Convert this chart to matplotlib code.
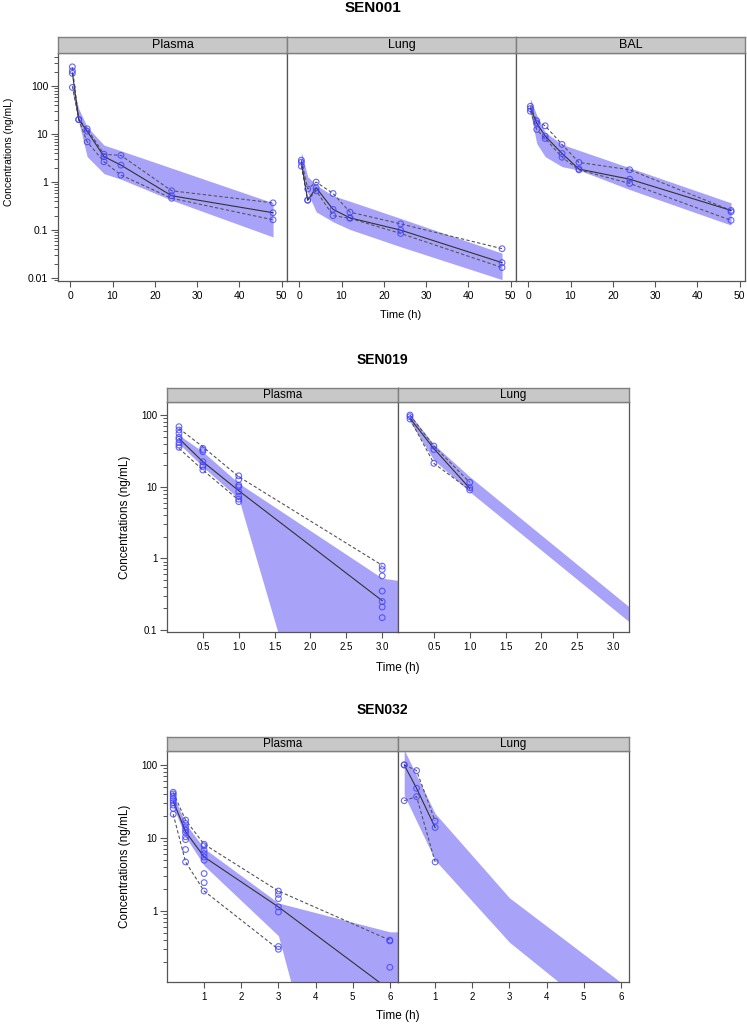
import numpy as np
import matplotlib
matplotlib.use('Agg')
import matplotlib.pyplot as plt
from matplotlib.ticker import FixedLocator, LogLocator, NullFormatter

plt.rcParams['font.family'] = ['Liberation Sans', 'DejaVu Sans']

W, H = 747, 1025
BAND = '#a8a3f8'
POINT = (0.25, 0.25, 1.0, 0.8)
nan = np.nan

# ---- SEN001 (time in h, concentration in ng/mL) ----
t001 = [0.5, 2, 4, 8, 12, 24, 48]

plasma001_obs = [[252, 208, 184, 94], [20.2, 20.0], [12.9, 11.5, 6.9], [3.8, 3.4, 2.65],
                 [3.6, 2.26, 1.4], [0.66, 0.52, 0.46], [0.37, 0.23, 0.164]]
plasma001_med = [189, 20.2, 11.5, 3.4, 2.26, 0.52, 0.23]
plasma001_hi = [245, 20.2, 12.9, 3.8, 3.6, 0.66, 0.37]
plasma001_lo = [100, 20.0, 6.9, 2.65, 1.4, 0.46, 0.164]
plasma001_band_hi = [110, 34, 14.2, 5.9, 4.5, 1.96, 0.37]
plasma001_band_lo = [75, 18, 3.4, 1.5, 1.15, 0.42, 0.072]

lung001_obs = [[2.87, 2.6, 2.15], [0.72, 0.42, 0.42], [1.0, 0.76, 0.66], [0.58, 0.27, 0.2],
               [0.237, 0.18, 0.176], [0.135, 0.1, 0.085], [0.041, 0.021, 0.0166]]
lung001_med = [2.6, 0.42, 0.76, 0.27, 0.18, 0.1, 0.021]
lung001_hi = [2.87, 0.72, 1.0, 0.58, 0.237, 0.135, 0.041]
lung001_lo = [2.15, 0.42, 0.66, 0.2, 0.176, 0.085, 0.0166]
lung001_band_hi = [4.2, 1.3, 0.87, 0.52, 0.40, 0.175, 0.033]
lung001_band_lo = [2.0, 0.6, 0.24, 0.149, 0.103, 0.045, 0.0093]

bal001_obs = [[38, 34, 30], [19, 17, 12.5], [14.9, 9.1, 8.1], [6.1, 3.95, 3.3],
              [2.57, 1.87, 1.8], [1.81, 1.15, 0.94], [0.257, 0.24, 0.16]]
bal001_med = [34, 17, 9.1, 3.95, 1.87, 1.15, 0.257]
bal001_hi = [38, 19, 14.9, 6.1, 2.57, 1.81, 0.257]
bal001_lo = [30, 12.5, 8.1, 3.3, 1.8, 0.94, 0.16]
bal001_band_hi = [55, 25, 11, 6.1, 4.6, 1.99, 0.37]
bal001_band_lo = [29, 6.4, 3.4, 2.1, 1.78, 0.70, 0.127]

# ---- SEN019 ----
t019 = [0.167, 0.5, 1.0, 3.0]

plasma019_obs = [[68.7, 61.8, 55.5, 48.8, 45.8, 41.1, 38.1, 35.4],
                 [34.3, 32.5, 30.8, 22.3, 20.0, 19.0, 17.1],
                 [14.2, 12.6, 10.5, 10.0, 8.5, 7.4, 6.7, 6.2],
                 [0.78, 0.70, 0.57, 0.35, 0.25, 0.21, 0.149]]
plasma019_med = [47, 22.3, 8.8, 0.257]
plasma019_hi = [65, 36, 13.8, 0.8]
plasma019_lo = [34.3, 17.1, 6.5, nan]
plasma019_band_t = [0.167, 0.5, 1.0, 3.0, 3.5]
plasma019_band_hi = [52.6, 30.8, 11.2, 0.53, 0.45]
plasma019_band_lo = [40, 19, 6.8, 1e-6, 1e-6]

lung019_obs = [[100, 95, 88], [36.9, 33, 21.2], [11.5, 9.7, 9.0], []]
lung019_med = [90, 34, 9.5, nan]
lung019_hi = [100, 37, 11.5, nan]
lung019_lo = [88, 21.2, 9.0, nan]
lung019_band_t = [0.167, 0.5, 1.0, 3.25]
lung019_band_hi = [102, 39, 13.8, 0.2]
lung019_band_lo = [81, 23.5, 8.5, 0.124]

# ---- SEN032 ----
t032 = [0.167, 0.5, 1.0, 3.0, 6.0]

plasma032_obs = [[42.2, 40, 37.5, 34.8, 32.4, 30.4, 28.2, 25.4, 21.2],
                 [17.6, 15.8, 14.2, 12.8, 11.8, 10.4, 9.5, 6.95, 4.7],
                 [8.2, 7.8, 6.8, 6.1, 5.5, 4.96, 3.26, 2.45, 1.88],
                 [1.88, 1.69, 1.48, 1.14, 0.97, 0.327, 0.30],
                 [0.40, 0.39, 0.17]]
plasma032_med = [32, 12.2, 5.5, 1.14, 0.083]
plasma032_hi = [42, 17.6, 8.2, 1.88, 0.40]
plasma032_lo = [21.2, 4.7, 1.88, 0.30, nan]
plasma032_band_t = [0.167, 0.5, 1.0, 3.0, 6.0, 6.5]
plasma032_band_hi = [38.7, 15.8, 7.2, 1.29, 0.52, 0.52]
plasma032_band_lo = [26.8, 10.4, 4.2, 0.46, 1e-6, 1e-6]

lung032_obs = [[100, 100, 32.4], [83.6, 47.9, 36.8], [17, 13.9, 4.7], [], []]
lung032_med = [100, 47.9, 13.9, nan, nan]
lung032_hi = [100, 83.6, 17, nan, nan]
lung032_lo = [32.4, 36.8, 4.7, nan, nan]
lung032_band_t = [0.167, 1.0, 3.0, 6.0]
lung032_band_hi = [161, 21.7, 1.52, 0.106]
lung032_band_lo = [38.7, 4.97, 0.375, 0.022]


def rect(x0, y0, x1, y1):
    return [x0 / W, 1 - y1 / H, (x1 - x0) / W, (y1 - y0) / H]


def draw_panel(fig, box, strip_h, name, t, obs, med, hi, lo, band_t, band_hi, band_lo,
               xlim, ylim, xticks, xlabels, yticks, ylabels, first, fs_tick, fs_strip):
    x0, y0, x1, y1 = box
    ax = fig.add_axes(rect(x0, y0, x1, y1))
    ax.fill_between(band_t, band_lo, band_hi, color=BAND, lw=0, zorder=1)
    ax.plot(t, hi, color='#555555', lw=0.8, ls=(0, (3, 2)), zorder=2)
    ax.plot(t, lo, color='#555555', lw=0.8, ls=(0, (3, 2)), zorder=2)
    ax.plot(t, med, color='#333333', lw=0.8, zorder=2)
    xs = [ti for ti, vals in zip(t, obs) for v in vals]
    ys = [v for vals in obs for v in vals]
    ax.scatter(xs, ys, s=17, facecolors='none', edgecolors=[POINT], linewidths=0.8, zorder=3)
    ax.set_yscale('log')
    ax.set_xlim(*xlim)
    ax.set_ylim(*ylim)
    ax.set_xticks(xticks)
    ax.set_xticklabels(xlabels, fontsize=fs_tick)
    for s in ax.spines.values():
        s.set_color('#555555')
        s.set_linewidth(0.9)
    ax.tick_params(axis='x', direction='out', length=4.3, width=0.8, color='#555555', pad=3,
                   top=False)
    if first:
        ax.yaxis.set_major_locator(FixedLocator(yticks))
        ax.set_yticklabels(ylabels, fontsize=fs_tick)
        ax.yaxis.set_minor_locator(LogLocator(base=10, subs=np.arange(2, 10)))
        ax.yaxis.set_minor_formatter(NullFormatter())
        ax.tick_params(axis='y', which='major', direction='out', length=5, width=0.8,
                       color='#555555', pad=2, right=False)
        ax.tick_params(axis='y', which='minor', direction='out', length=3, width=0.7,
                       color='#555555', right=False)
    else:
        ax.tick_params(axis='y', which='both', left=False, right=False, labelleft=False)
    ax.tick_params(axis='x', which='minor', bottom=False, top=False)
    sx = fig.add_axes(rect(x0, y0 - strip_h, x1, y0))
    sx.set_facecolor('#c8c8c8')
    sx.set_xticks([])
    sx.set_yticks([])
    for s in sx.spines.values():
        s.set_color('#808080')
        s.set_linewidth(1.0)
    sx.text(0.5, 0.5, name, ha='center', va='center', fontsize=fs_strip, transform=sx.transAxes)
    return ax


fig = plt.figure(figsize=(W / 100, H / 100), dpi=100)

# SEN001 row
top_xt = [0, 10, 20, 30, 40, 50]
top_xl = [str(v) for v in top_xt]
top_yt = [0.01, 0.1, 1, 10, 100]
top_yl = ['0.01', '0.1', '1', '10', '100']
panels001 = [('Plasma', plasma001_obs, plasma001_med, plasma001_hi, plasma001_lo,
              plasma001_band_hi, plasma001_band_lo),
             ('Lung', lung001_obs, lung001_med, lung001_hi, lung001_lo,
              lung001_band_hi, lung001_band_lo),
             ('BAL', bal001_obs, bal001_med, bal001_hi, bal001_lo,
              bal001_band_hi, bal001_band_lo)]
left = 58
for i, (name, obs, med, hi, lo, bhi, blo) in enumerate(panels001):
    draw_panel(fig, (left + 229 * i, 53, left + 229 * (i + 1), 281), 16, name, t001, obs,
               med, hi, lo, t001, bhi, blo, (-2.9, 51.3), (0.0087, 490),
               top_xt, top_xl, top_yt, top_yl, i == 0, 7.5, 9)
fig.text(373 / W, 1 - 8.5 / H, 'SEN001', ha='center', va='center', fontsize=11,
         fontweight='bold')
fig.text(9 / W, 1 - 152 / H, 'Concentrations (ng/mL)', rotation=90, ha='center',
         va='center', fontsize=7.5)
fig.text(401 / W, 1 - 315 / H, 'Time (h)', ha='center', va='center', fontsize=8)

# SEN019 row
mid_xt = [0.5, 1.0, 1.5, 2.0, 2.5, 3.0]
mid_xl = ['%.1f' % v for v in mid_xt]
mid_yt = [0.1, 1, 10, 100]
mid_yl = ['0.1', '1', '10', '100']
panels019 = [('Plasma', plasma019_obs, plasma019_med, plasma019_hi, plasma019_lo,
              plasma019_band_t, plasma019_band_hi, plasma019_band_lo),
             ('Lung', lung019_obs, lung019_med, lung019_hi, lung019_lo,
              lung019_band_t, lung019_band_hi, lung019_band_lo)]
left = 167
for i, (name, obs, med, hi, lo, bt, bhi, blo) in enumerate(panels019):
    draw_panel(fig, (left + 231 * i, 402, left + 231 * (i + 1), 632), 14, name, t019, obs,
               med, hi, lo, bt, bhi, blo, (0, 3.22), (0.094, 152),
               mid_xt, mid_xl, mid_yt, mid_yl, i == 0, 7, 8.5)
fig.text(382 / W, 1 - 360.5 / H, 'SEN019', ha='center', va='center', fontsize=10,
         fontweight='bold')
fig.text(125 / W, 1 - 517 / H, 'Concentrations (ng/mL)', rotation=90, ha='center',
         va='center', fontsize=8.5)
fig.text(398 / W, 1 - 668 / H, 'Time (h)', ha='center', va='center', fontsize=8.5)

# SEN032 row
bot_xt = [1, 2, 3, 4, 5, 6]
bot_xl = [str(v) for v in bot_xt]
bot_yt = [1, 10, 100]
bot_yl = ['1', '10', '100']
panels032 = [('Plasma', plasma032_obs, plasma032_med, plasma032_hi, plasma032_lo,
              plasma032_band_t, plasma032_band_hi, plasma032_band_lo),
             ('Lung', lung032_obs, lung032_med, lung032_hi, lung032_lo,
              lung032_band_t, lung032_band_hi, lung032_band_lo)]
for i, (name, obs, med, hi, lo, bt, bhi, blo) in enumerate(panels032):
    draw_panel(fig, (left + 231 * i, 751, left + 231 * (i + 1), 982), 14, name, t032, obs,
               med, hi, lo, bt, bhi, blo, (0, 6.22), (0.107, 155),
               bot_xt, bot_xl, bot_yt, bot_yl, i == 0, 7, 8.5)
fig.text(382 / W, 1 - 709.5 / H, 'SEN032', ha='center', va='center', fontsize=10,
         fontweight='bold')
fig.text(125 / W, 1 - 866.5 / H, 'Concentrations (ng/mL)', rotation=90, ha='center',
         va='center', fontsize=8.5)
fig.text(398 / W, 1 - 1016 / H, 'Time (h)', ha='center', va='center', fontsize=8.5)

fig.savefig('out.png', dpi=100)
